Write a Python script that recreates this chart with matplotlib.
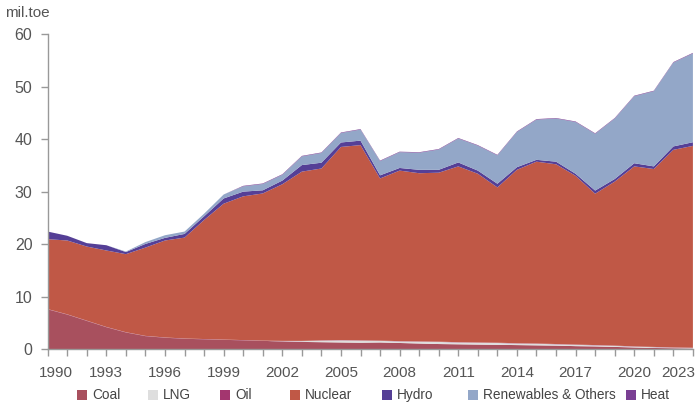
import matplotlib
matplotlib.use("Agg")
import matplotlib.pyplot as plt
import matplotlib.transforms as mtransforms
from matplotlib.patches import Rectangle

plt.rcParams['font.family'] = ['Liberation Sans', 'DejaVu Sans']

years = list(range(1990, 2024))
coal = [7.6, 6.6, 5.4, 4.2, 3.2, 2.5, 2.2, 2.0, 1.9, 1.8, 1.7, 1.6, 1.5, 1.4, 1.35, 1.3, 1.25,
        1.3, 1.2, 1.1, 1.0, 0.95, 0.9, 0.85, 0.8, 0.75, 0.7, 0.6, 0.55, 0.45, 0.35, 0.25, 0.2, 0.15]
lng = [0, 0, 0, 0, 0, 0, 0, 0, 0, 0, 0, 0, 0.05, 0.15, 0.3, 0.4, 0.4,
       0.3, 0.3, 0.35, 0.4, 0.35, 0.35, 0.35, 0.3, 0.3, 0.25, 0.25, 0.2, 0.2, 0.15, 0.15, 0.1, 0.1]
oil = [0.05] * 34
nuclear = [13.3, 14.05, 14.1, 14.55, 14.85, 16.8, 18.45, 19.2, 22.65, 25.85, 27.35, 28.0, 29.8,
           32.2, 32.7, 36.75, 37.15, 30.85, 32.45, 32.0, 32.15, 33.45, 32.1, 29.55, 33.0, 34.6,
           34.2, 32.1, 28.8, 31.2, 34.25, 33.85, 37.6, 38.4]
hydro = [1.45, 0.9, 0.65, 1.0, 0.4, 0.7, 0.5, 0.7, 0.7, 1.0, 0.9, 0.6, 0.7, 1.25, 1.1, 0.85, 0.85,
         0.6, 0.5, 0.65, 0.55, 0.75, 0.6, 0.7, 0.5, 0.35, 0.5, 0.4, 0.6, 0.5, 0.6, 0.5, 0.65, 0.7]
renewables = [0, 0, 0, 0, 0.1, 0.35, 0.5, 0.45, 0.5, 0.75, 1.0, 1.2, 1.1, 1.65, 1.85, 1.8, 2.1,
              2.7, 3.0, 3.25, 3.85, 4.55, 4.75, 5.4, 6.7, 7.65, 8.2, 9.85, 10.8, 11.5, 12.75,
              14.3, 15.95, 16.9]
heat = [0, 0, 0, 0, 0, 0, 0, 0, 0, 0, 0.1, 0.1, 0.1, 0.1, 0.1, 0.1, 0.1,
        0.1, 0.1, 0.1, 0.1, 0.1, 0.1, 0.1, 0.1, 0.1, 0.1, 0.1, 0.1, 0.1, 0.1, 0.1, 0.1, 0.1]

labels = ['Coal', 'LNG', 'Oil', 'Nuclear', 'Hydro', 'Renewables & Others', 'Heat']
colors = ['#A8505E', '#DEDEDE', '#A3366F', '#C05846', '#553F96', '#93A7C8', '#7A3F93']
xtick_labels = [str(y) for y in range(1990, 2024, 3)]

W, H = 695, 409
fig = plt.figure(figsize=(W / 100, H / 100), dpi=100)
ax = fig.add_axes([0.0686, 0.146, 0.9284, 0.771])

ax.stackplot(years, coal, lng, oil, nuclear, hydro, renewables, heat,
             colors=colors, linewidth=0)

ax.set_xlim(1990, 2023)
ax.set_ylim(0, 60)

gray = '#999999'
txt = '#555555'
for s in ['top', 'right']:
    ax.spines[s].set_visible(False)
for s in ['left', 'bottom']:
    ax.spines[s].set_color(gray)
    ax.spines[s].set_linewidth(1.0)

ax.set_yticks(range(0, 61, 10))
ax.tick_params(axis='y', colors=gray, labelcolor=txt, labelsize=11.5, length=5, width=1, pad=6)
ax.set_xticks(years, minor=True)
ax.set_xticks(list(range(1990, 2024, 3)))
ax.set_xticklabels(xtick_labels)
ax.tick_params(axis='x', which='both', colors=gray, labelcolor=txt, labelsize=11, length=5, width=1, pad=7)

tl = ax.get_xticklabels()
tl[0].set_transform(tl[0].get_transform() + mtransforms.ScaledTranslation(8/100, 0, fig.dpi_scale_trans))
tl[-1].set_transform(tl[-1].get_transform() + mtransforms.ScaledTranslation(-15/100, 0, fig.dpi_scale_trans))

fig.text(5 / W, 1 - 13 / H, 'mil.toe', color=txt, fontsize=11, ha='left', va='center')

# manual legend (positions in pixels)
swatch_x = [77, 148, 220, 290, 382, 468, 626]
ly = 395
for x0, c, lab in zip(swatch_x, colors, labels):
    fig.patches.append(Rectangle((x0 / W, 1 - (ly + 5) / H), 10 / W, 10 / H,
                                 transform=fig.transFigure, facecolor=c, edgecolor='none'))
    fig.text((x0 + 15) / W, 1 - ly / H, lab, color='#444444', fontsize=9.8,
             ha='left', va='center')

fig.savefig('out.png', dpi=100)
